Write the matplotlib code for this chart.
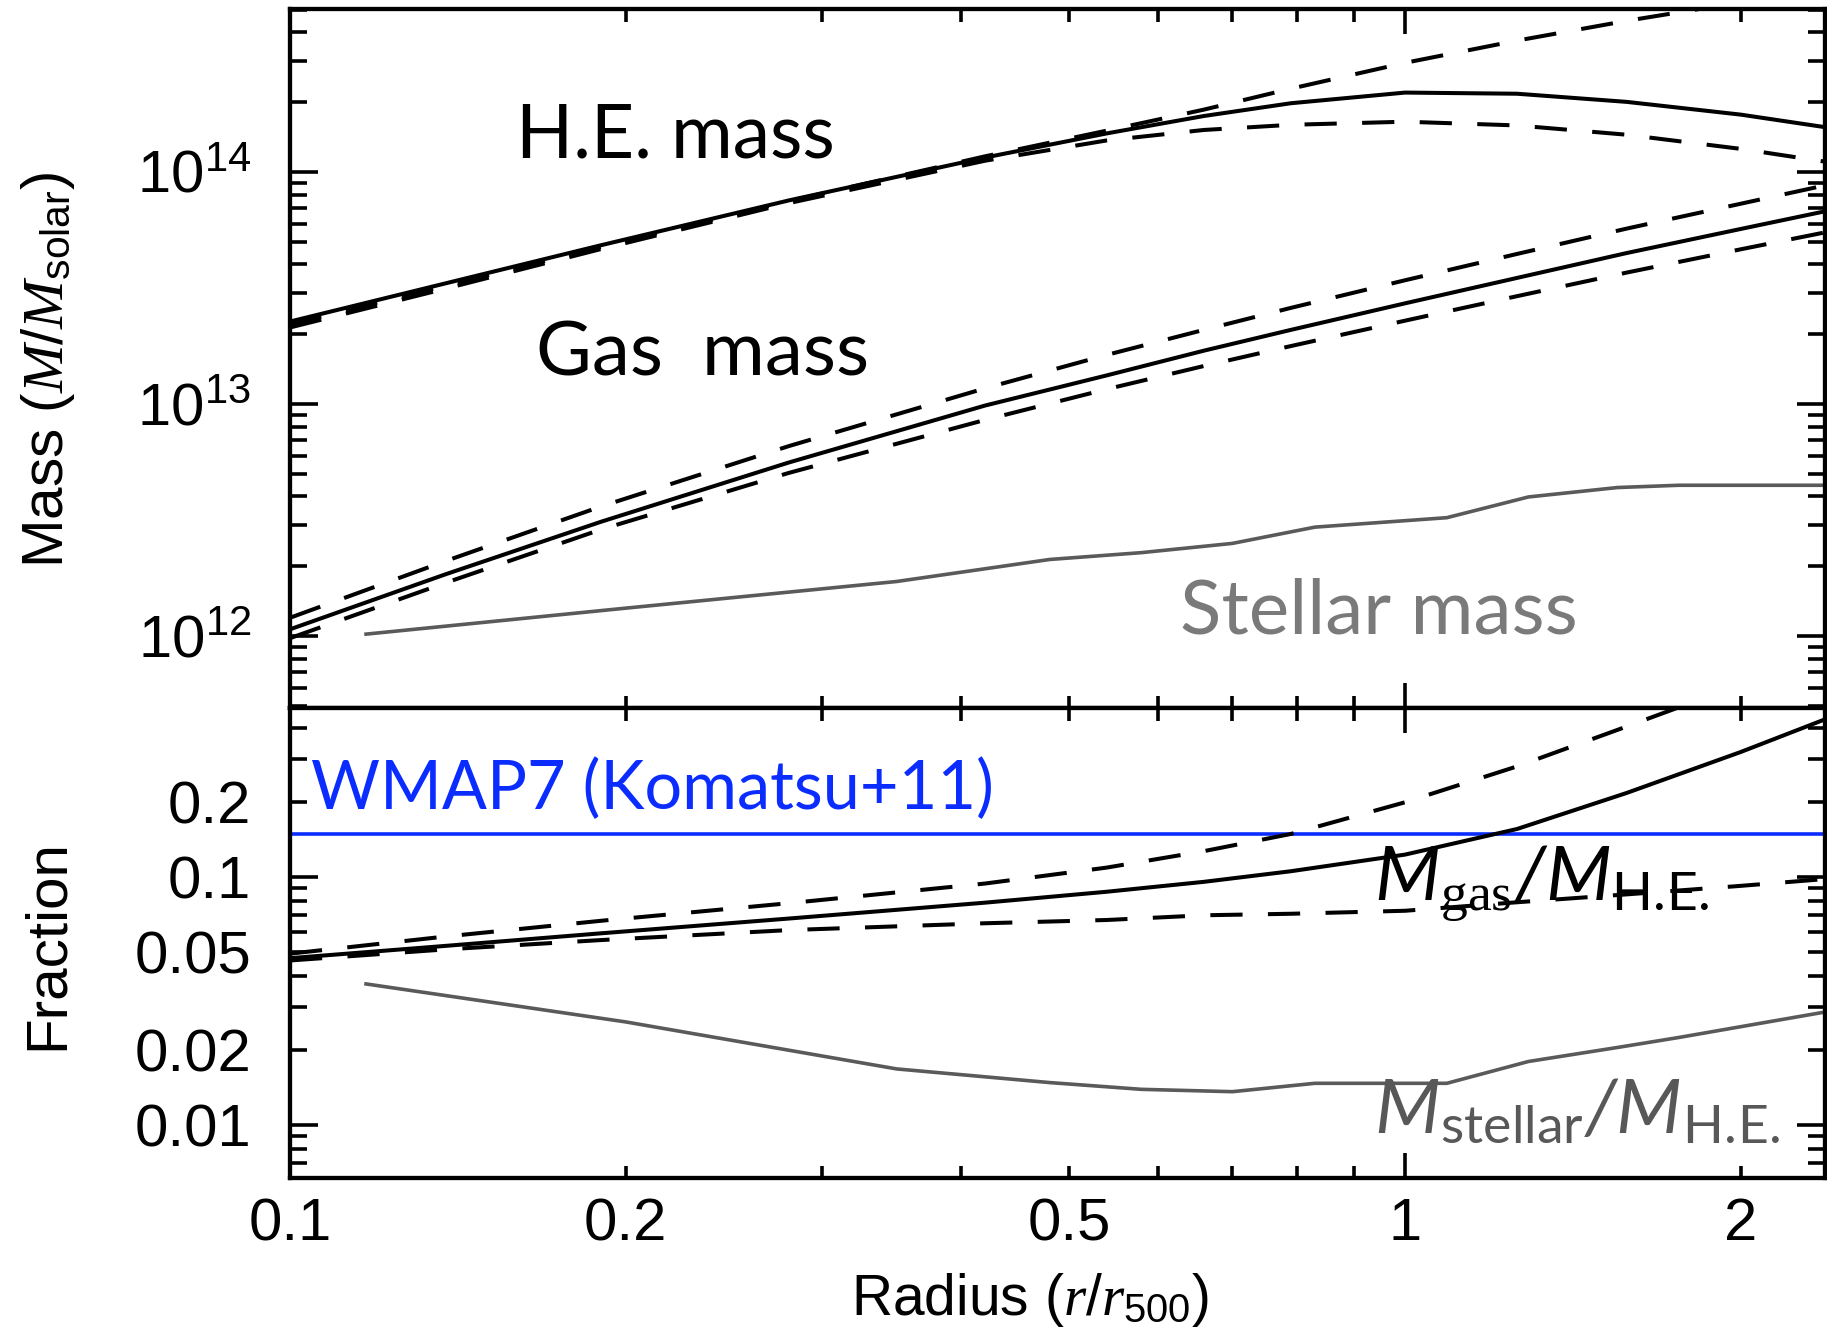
import numpy as np
import matplotlib
matplotlib.use("Agg")
import matplotlib.pyplot as plt

plt.rcParams['font.family'] = ['Liberation Sans', 'DejaVu Sans']
plt.rcParams['mathtext.fontset'] = 'custom'
plt.rcParams['mathtext.rm'] = 'Liberation Sans'
plt.rcParams['mathtext.it'] = 'Liberation Serif:italic'
plt.rcParams['mathtext.sf'] = 'Lato'
plt.rcParams['mathtext.bf'] = 'Lato:italic'
plt.rcParams['mathtext.tt'] = 'Liberation Serif'

# radius grid (r / r500) for the smooth profiles
radius = np.array([0.1, 0.138, 0.19, 0.28, 0.42, 0.54, 0.66, 0.79, 1.0, 1.26, 1.58, 2.0, 2.38])

# hydrostatic mass, units of 1e13 Msun (best fit, upper and lower envelopes)
he_mass = np.array([2.27, 3.32, 4.84, 7.55, 11.56, 14.69, 17.46, 19.82, 22.03, 21.78, 20.09, 17.70, 15.63])
he_mass_hi = np.array([2.21, 3.24, 4.75, 7.50, 11.7, 15.1, 18.6, 22.9, 29.6, 36.9, 44.9, 54.0, 62.2])
he_mass_lo = np.array([2.14, 3.15, 4.66, 7.35, 11.2, 13.7, 15.2, 16.0, 16.5, 15.9, 14.5, 12.6, 11.1])

# gas mass, units of 1e12 Msun
gas_mass = np.array([1.07, 1.85, 3.11, 5.60, 9.86, 13.3, 17.0, 20.9, 27.2, 35.0, 44.8, 56.9, 67.8])
gas_mass_hi = np.array([1.20, 2.11, 3.62, 6.59, 11.7, 16.3, 20.9, 26.0, 34.2, 44.4, 57.1, 73.1, 87.7])
gas_mass_lo = np.array([0.98, 1.70, 2.88, 5.05, 8.55, 11.6, 14.6, 17.8, 22.9, 29.2, 36.9, 46.5, 55.0])

# gas fraction M_gas / M_HE
gas_frac = np.array([0.047, 0.0527, 0.0592, 0.0679, 0.0787, 0.0871, 0.0955, 0.1054, 0.123, 0.156,
                     0.218, 0.319, 0.432])
gas_frac_hi = np.array([0.049, 0.0575, 0.0665, 0.0783, 0.094, 0.109, 0.127, 0.149, 0.200, 0.279,
                        0.404, 0.597, 0.81])
gas_frac_lo = np.array([0.046, 0.051, 0.0556, 0.061, 0.065, 0.067, 0.070, 0.071, 0.073, 0.079,
                        0.085, 0.092, 0.098])

# stellar profile (measured at discrete radii)
radius_star = np.array([0.117, 0.2, 0.35, 0.48, 0.58, 0.70, 0.83, 1.09, 1.29, 1.55, 1.76, 2.38])
star_mass = np.array([1.02, 1.32, 1.72, 2.14, 2.29, 2.51, 2.95, 3.24, 3.98, 4.37, 4.47, 4.47])  # 1e12 Msun
star_frac = np.array([0.037, 0.026, 0.0168, 0.0148, 0.0139, 0.0136, 0.0147, 0.0147, 0.0180, 0.0205,
                      0.0225, 0.0285])

wmap7_fb = 0.149

W, H = 1827, 1336
fig = plt.figure(figsize=(W / 100, H / 100), dpi=100)
left, right = 290 / W, 1825 / W
ax1 = fig.add_axes([left, (H - 708) / H, right - left, 699 / H])
ax2 = fig.add_axes([left, (H - 1178) / H, right - left, 470 / H], sharex=ax1)

solid = dict(color='black', lw=2.9)
dashed = dict(color='black', lw=2.9, dashes=(8, 6.3))
grey = '#5a5a5a'
blue = '#0a2cff'

ax1.plot(radius, he_mass * 1e13, **solid)
ax1.plot(radius, he_mass_hi * 1e13, **dashed)
ax1.plot(radius, he_mass_lo * 1e13, **dashed)
ax1.plot(radius, gas_mass * 1e12, **solid)
ax1.plot(radius, gas_mass_hi * 1e12, **dashed)
ax1.plot(radius, gas_mass_lo * 1e12, **dashed)
ax1.plot(radius_star, star_mass * 1e12, color=grey, lw=2.6)

ax2.axhline(wmap7_fb, color=blue, lw=2.6)
ax2.plot(radius, gas_frac, **solid)
ax2.plot(radius, gas_frac_hi, **dashed)
ax2.plot(radius, gas_frac_lo, **dashed)
ax2.plot(radius_star, star_frac, color=grey, lw=2.6)

for ax in (ax1, ax2):
    ax.set_xscale('log')
    ax.set_yscale('log')
    for s in ax.spines.values():
        s.set_linewidth(3.1)
    ax.tick_params(which='both', direction='in', top=True, right=True, width=2.6)
    ax.tick_params(axis='y', which='major', length=20)
    ax.tick_params(axis='y', which='minor', length=12)
    ax.tick_params(axis='x', which='major', length=18)
    ax.tick_params(axis='x', which='minor', length=9)
    ax.tick_params(axis='y', which='both', pad=28, labelsize=43)
    ax.tick_params(axis='x', which='both', pad=14, labelsize=43)

ax1.set_xlim(0.1, 2.38)
ax1.set_xticks([0.1, 1], ['0.1', '1'])
minor_x = [0.2, 0.3, 0.4, 0.5, 0.6, 0.7, 0.8, 0.9, 2]
ax1.set_xticks(minor_x, ['0.2', '', '', '0.5', '', '', '', '', '2'], minor=True)
ax1.tick_params(axis='x', which='both', labelbottom=False)

ax1.set_ylim(4.9e11, 5.05e14)
ax1.set_yticks([1e12, 1e13, 1e14], [r'$\mathregular{10^{12}}$', r'$\mathregular{10^{13}}$',
                                   r'$\mathregular{10^{14}}$'])
ax1.set_yticks([m * 10.0 ** e for e in (11, 12, 13, 14) for m in range(2, 10)
                if 4.9e11 < m * 10.0 ** e < 5.05e14], minor=True)
ax1.yaxis.set_minor_formatter(plt.NullFormatter())

ax2.set_ylim(0.0061, 0.48)
ax2.set_yticks([0.01, 0.1], ['0.01', '0.1'])
minor_y = [m * 10.0 ** e for e in (-3, -2, -1) for m in range(2, 10) if 0.0061 < m * 10.0 ** e < 0.48]
ax2.set_yticks(minor_y, ['0.02' if np.isclose(v, 0.02) else '0.05' if np.isclose(v, 0.05)
                         else '0.2' if np.isclose(v, 0.2) else '' for v in minor_y], minor=True)

# axis titles
fig.text(63 / W, (H - 370) / H, r'Mass ($M/M_{\mathrm{solar}}$)', rotation=90,
         rotation_mode='anchor', ha='center', va='baseline', fontsize=42)
fig.text(63 / W, (H - 945) / H, 'Fraction', rotation=90, rotation_mode='anchor',
         ha='center', va='baseline', fontsize=42)
fig.text(1030 / W, (H - 1315) / H, r'Radius ($r/r_{\mathrm{500}}$)', ha='center', va='baseline',
         fontsize=41)

# annotations
lab = dict(family=['Lato', 'DejaVu Sans'], ha='left', va='baseline')
ax1.text(0.147, 0.787, 'H.E. mass', transform=ax1.transAxes, fontsize=54, color='black', **lab)
ax1.text(0.160, 0.475, 'Gas  mass', transform=ax1.transAxes, fontsize=55, color='black', **lab)
ax1.text(0.580, 0.107, 'Stellar mass', transform=ax1.transAxes, fontsize=55, color='#7a7a7a', **lab)
ax2.text(0.0137, 0.785, 'WMAP7 (Komatsu+11)', transform=ax2.transAxes, fontsize=48,
         color=blue, **lab)
ax2.text(0.706, 0.591, r'$\mathbf{M}_{\mathtt{gas}}\mathbf{/}\mathbf{M}_{\mathsf{H.\!E.}}$',
         transform=ax2.transAxes, fontsize=55, color='black', ha='left', va='baseline')
ax2.text(0.706, 0.096, r'$\mathbf{M}_{\mathsf{stellar}}\mathbf{/}\mathbf{M}_{\mathsf{H.\!E.}}$',
         transform=ax2.transAxes, fontsize=55, color='#585858', ha='left', va='baseline')

fig.savefig('out.png', dpi=100)
